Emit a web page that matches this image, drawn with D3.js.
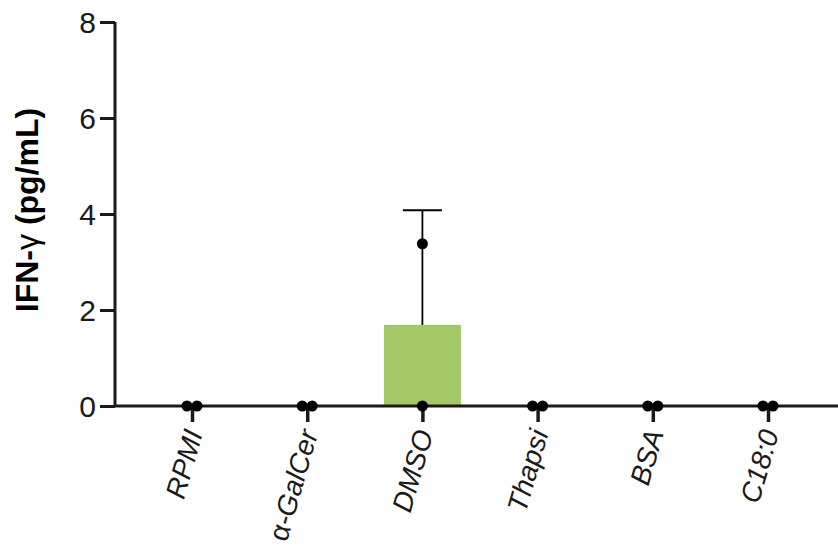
<!DOCTYPE html>
<html><head><meta charset="utf-8">
<script src="https://cdn.jsdelivr.net/npm/d3@7"></script>
<style>body{margin:0;background:#fff}svg{display:block}text{font-family:"Liberation Sans",Arial,sans-serif}</style>
</head><body><svg id="c" width="838" height="550"></svg>
<script>
const categories = ["RPMI","α-GalCer","DMSO","Thapsi","BSA","C18:0"];
const replicateA = [0,0,3.38,0,0,0];
const replicateB = [0,0,0,0,0,0];
const yTicks = [0,2,4,6,8];
const barColor = "#a5c866";

const svg = d3.select("#c");
const x = d3.scalePoint().domain(categories).range([192,768]);
const y = d3.scaleLinear().domain([0,8]).range([406,22]);
const barW = 77, capW = 39;

const data = categories.map((c,i)=>{
  const v=[replicateA[i],replicateB[i]];
  const m=d3.mean(v), sd=d3.deviation(v)||0;
  return {c,v,m,sd};
});

// bars
svg.selectAll("rect.bar").data(data).join("rect")
  .attr("x",d=>x(d.c)-barW/2).attr("width",barW)
  .attr("y",d=>y(d.m)).attr("height",d=>y(0)-y(d.m))
  .attr("fill",barColor);

// error bars
const eb = data.filter(d=>d.sd>0);
svg.selectAll("line.eb").data(eb).join("line")
  .attr("x1",d=>x(d.c)).attr("x2",d=>x(d.c))
  .attr("y1",d=>y(d.m)).attr("y2",d=>y(d.m+d.sd))
  .attr("stroke","#000").attr("stroke-width",1.8);
svg.selectAll("line.cap").data(eb).join("line")
  .attr("x1",d=>x(d.c)-capW/2).attr("x2",d=>x(d.c)+capW/2)
  .attr("y1",d=>y(d.m+d.sd)).attr("y2",d=>y(d.m+d.sd))
  .attr("stroke","#000").attr("stroke-width",2);

// axes
const yAxis = d3.axisLeft(y).tickValues(yTicks).tickSize(15).tickPadding(4).tickFormat(d3.format("d"));
const gy = svg.append("g").attr("transform","translate(115,0)").call(yAxis);
gy.attr("font-size",null).attr("font-family",null);
gy.select(".domain").attr("stroke","#1a1a1a").attr("stroke-width",3).attr("d","M0,22V406");
gy.selectAll(".tick line").attr("stroke","#1a1a1a").attr("stroke-width",3);
gy.selectAll(".tick text").style("font-size","30px").attr("fill","#1a1a1a").attr("dy","0.36em");

const xAxis = d3.axisBottom(x).tickSize(16).tickFormat("");
const gx = svg.append("g").attr("transform","translate(0,406)").call(xAxis);
gx.select(".domain").attr("stroke","#1a1a1a").attr("stroke-width",3).attr("d","M115,0H838");
gx.selectAll(".tick line").attr("stroke","#1a1a1a").attr("stroke-width",3.5);

// x labels
const xl = svg.selectAll("text.xl").data(categories).join("text")
  .attr("class","xl")
  .attr("transform",d=>`translate(${x(d)+11},433) rotate(-74)`)
  .attr("text-anchor","end")
  .style("font-size","28px").attr("fill","#1a1a1a");
xl.each(function(d){
  const t=d3.select(this);
  if(d.startsWith("α")){
    t.append("tspan").text("α");
    t.append("tspan").attr("font-style","italic").text(d.slice(1));
  } else {
    t.append("tspan").attr("font-style","italic").text(d);
  }
});

// points
const pts=[];
data.forEach(d=>{
  const same = d.v[0]===d.v[1];
  d.v.forEach((val,j)=>pts.push({c:d.c,val,off: same ? (j===0?-5:5) : 0}));
});
svg.selectAll("circle.pt").data(pts).join("circle")
  .attr("cx",d=>x(d.c)+d.off).attr("cy",d=>y(d.val)).attr("r",5.5).attr("fill","#000");

// y label
const yl = svg.append("text")
  .attr("transform","translate(38,210) rotate(-90)")
  .attr("text-anchor","middle").style("font-size","32px").attr("font-weight","bold").attr("fill","#000");
yl.append("tspan").text("IFN-");
yl.append("tspan").attr("font-weight","normal").text("γ");
yl.append("tspan").text(" (pg/mL)");
</script></body></html>
